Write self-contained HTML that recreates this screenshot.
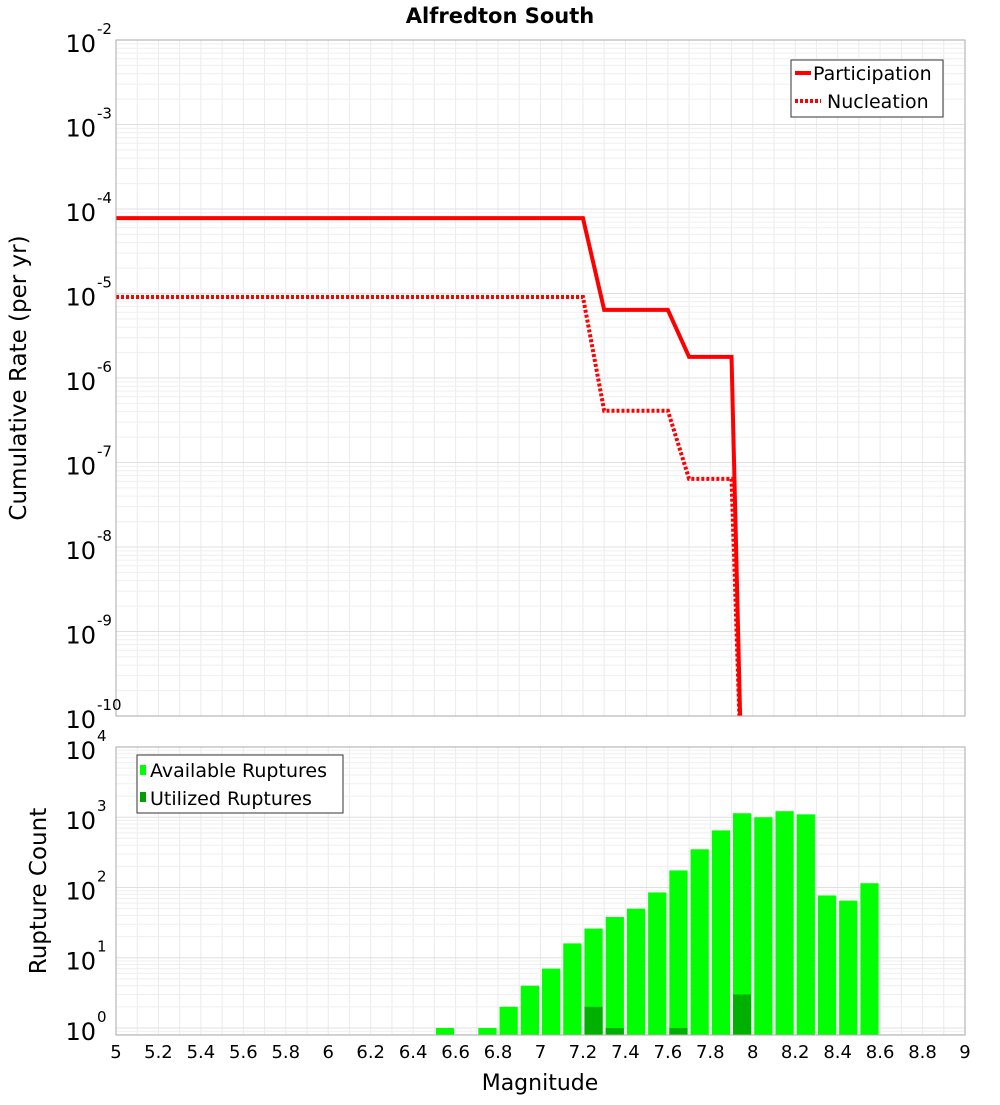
<!DOCTYPE html>
<html><head><meta charset="utf-8">
<style>
html,body{margin:0;padding:0;background:#fff;}
svg text{font-family:"DejaVu Sans","Liberation Sans",sans-serif;}
</style></head>
<body>
<svg id="chart" width="1000" height="1100" viewBox="0 0 1000 1100" xmlns="http://www.w3.org/2000/svg">
<text x="500" y="23" text-anchor="middle" font-size="21" font-weight="bold">Alfredton South</text>
<g id="gtop"></g>
<g id="gbot"></g>
<text transform="translate(26,378) rotate(-90)" text-anchor="middle" font-size="23">Cumulative Rate (per yr)</text>
<text transform="translate(46,891) rotate(-90)" text-anchor="middle" font-size="23">Rupture Count</text>
<text x="540" y="1090" text-anchor="middle" font-size="22">Magnitude</text>
</svg>
<script>
// ---- data ----
const partMags = [5.0, 7.2, 7.3, 7.6, 7.7, 7.9, 7.95];
const partRates = [7.8e-5, 7.8e-5, 6.4e-6, 6.4e-6, 1.78e-6, 1.78e-6, 1e-11];
const nuclMags = [5.0, 7.2, 7.3, 7.6, 7.7, 7.9, 7.95];
const nuclRates = [9.1e-6, 9.1e-6, 4.1e-7, 4.1e-7, 6.4e-8, 6.4e-8, 1e-11];
const binMags = [6.55,6.65,6.75,6.85,6.95,7.05,7.15,7.25,7.35,7.45,7.55,7.65,7.75,7.85,7.95,8.05,8.15,8.25,8.35,8.45,8.55];
const availCounts = [1,0,1,2,4,7,16,26,38,50,85,175,350,650,1140,1000,1220,1100,77,65,115];
const usedCounts = [0,0,0,0,0,0,0,2,1,0,0,1,0,0,3,0,0,0,0,0,0];
const xTicks = [5,5.2,5.4,5.6,5.8,6,6.2,6.4,6.6,6.8,7,7.2,7.4,7.6,7.8,8,8.2,8.4,8.6,8.8,9];
const topExps = [-2,-3,-4,-5,-6,-7,-8,-9,-10];
const botExps = [0,1,2,3,4];

const NS="http://www.w3.org/2000/svg";
const X0=116,X1=965;
const xs=m=>X0+(m-5)/4*(X1-X0);
const TT=40,TB=716;
const yTop=v=>TT+(-2-Math.log10(v))/8*(TB-TT);
const BT=747,BB=1035;
const yBot=v=>BT+(4-Math.log10(v))/4.1*(BB-BT);
function mk(parent,tag,attrs,name){
  const e=document.createElementNS(NS,tag);
  for(const k in attrs)e.setAttribute(k,attrs[k]);
  
  
  parent.appendChild(e);return e;
}
const gTop=document.getElementById('gtop'),gBot=document.getElementById('gbot');

function grid(g,yT,yB,yf,expLo,expHi){
  for(let i=0;i<=40;i++){
    const m=5+i*0.1;
    mk(g,'line',{x1:xs(m),x2:xs(m),y1:yT,y2:yB,stroke:'#ebebeb','stroke-width':1},'grid-line-x');
  }
  for(let e=expLo;e<=expHi;e++){
    for(let k=1;k<10;k++){
      const v=k*Math.pow(10,e);
      const y=yf(v);
      if(y<yT-0.5||y>yB+0.5)continue;
      mk(g,'line',{x1:X0,x2:X1,y1:y,y2:y,stroke:k==1?'#e0e0e0':'#efefef','stroke-width':1},'grid-line-y');
    }
  }
}
// top panel
grid(gTop,TT,TB,yTop,-10,-2);
const cp=mk(gTop,'clipPath',{id:'tc'},'top-clip');
mk(cp,'rect',{x:X0,y:TT,width:X1-X0,height:TB-TT},'top-clip-rect');
const tg=mk(gTop,'g',{'clip-path':'url(#tc)'},'top-series');
const pPts=partMags.map((m,i)=>xs(m)+','+yTop(partRates[i])).join(' ');
mk(tg,'polyline',{points:pPts,fill:'none',stroke:'#ff0000','stroke-width':4},'participation-line');
const nPts=nuclMags.map((m,i)=>xs(m)+','+yTop(nuclRates[i])).join(' ');
mk(tg,'polyline',{points:nPts,fill:'none',stroke:'#ff0000','stroke-width':4,'stroke-dasharray':'3,2'},'nucleation-line');
mk(gTop,'rect',{x:X0,y:TT,width:X1-X0,height:TB-TT,fill:'none',stroke:'#aaa','stroke-width':1},'top-plot-frame');
topExps.forEach(e=>{
  const y=yTop(Math.pow(10,e));
  const t=mk(gTop,'text',{x:96,y:y+12,'text-anchor':'end','font-size':24},'top-y-tick-label');
  t.textContent='10';
  const s=mk(gTop,'text',{x:97,y:y-6,'font-size':15},'top-y-tick-exp');
  s.textContent=String(e);
});
// top legend
mk(gTop,'rect',{x:791,y:60,width:152,height:57,fill:'#fff',stroke:'#333','stroke-width':1},'top-legend');
mk(gTop,'line',{x1:795,x2:811,y1:73,y2:73,stroke:'#f00','stroke-width':4},'legend-participation-swatch');
mk(gTop,'text',{x:813,y:80,'font-size':19},'legend-participation').textContent='Participation';
mk(gTop,'line',{x1:795,x2:821,y1:101,y2:101,stroke:'#f00','stroke-width':4,'stroke-dasharray':'3,2'},'legend-nucleation-swatch');
mk(gTop,'text',{x:827,y:108,'font-size':19},'legend-nucleation').textContent='Nucleation';

// bottom panel
grid(gBot,BT,BB,yBot,-1,4);
const bw=xs(5.1)-xs(5)-3;
binMags.forEach((m,i)=>{
  const v=availCounts[i];
  if(v>0){const y=yBot(v);mk(gBot,'rect',{x:xs(m)-bw/2,y:y,width:bw,height:BB-y,fill:'#00ff00'},'available-bar');}
  const u=usedCounts[i];
  if(u>0){const y=yBot(u);mk(gBot,'rect',{x:xs(m)-bw/2,y:y,width:bw,height:BB-y,fill:'#00b000'},'utilized-bar');}
});
mk(gBot,'rect',{x:X0,y:BT,width:X1-X0,height:BB-BT,fill:'none',stroke:'#aaa','stroke-width':1},'bottom-plot-frame');
botExps.forEach(e=>{
  const y=yBot(Math.pow(10,e));
  const t=mk(gBot,'text',{x:96,y:y+12,'text-anchor':'end','font-size':24},'bottom-y-tick-label');
  t.textContent='10';
  const s=mk(gBot,'text',{x:97,y:y-6,'font-size':15},'bottom-y-tick-exp');
  s.textContent=String(e);
});
xTicks.forEach(m=>{
  const t=mk(gBot,'text',{x:xs(m),y:1058,'text-anchor':'middle','font-size':18},'x-tick-label');
  t.textContent=String(m);
});
mk(gBot,'rect',{x:137,y:755,width:206,height:58,fill:'#fff',stroke:'#333','stroke-width':1},'bottom-legend');
mk(gBot,'rect',{x:140,y:765,width:6,height:10,fill:'#00ff00'},'legend-available-swatch');
mk(gBot,'text',{x:150,y:777,'font-size':19},'legend-available').textContent='Available Ruptures';
mk(gBot,'rect',{x:140,y:792,width:6,height:10,fill:'#00a000'},'legend-utilized-swatch');
mk(gBot,'text',{x:150,y:805,'font-size':19},'legend-utilized').textContent='Utilized Ruptures';
</script>
</body></html>
